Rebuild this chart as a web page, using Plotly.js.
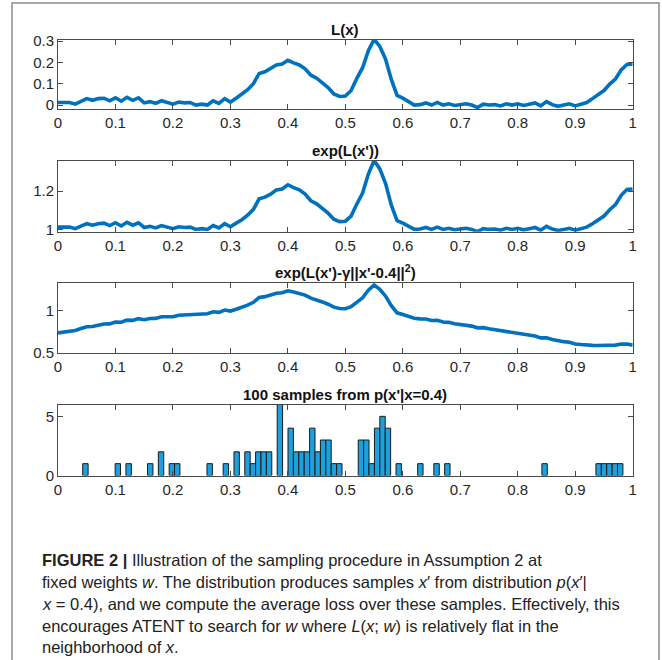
<!DOCTYPE html>
<html><head><meta charset="utf-8">
<script src="https://cdn.plot.ly/plotly-3.0.1.min.js"></script>
<style>html,body{margin:0;padding:0;background:#fff;}#chart{width:662px;height:660px;}</style>
</head><body><div id="chart"></div>
<script>
// ---- data ----
const xStart = 0, xStep = 0.01;
const lossL = [0.012,0.010,0.012,0.004,0.018,0.030,0.022,0.030,0.032,0.020,
  0.034,0.018,0.036,0.022,0.034,0.010,0.016,0.008,0.020,0.012,
  0.004,0.014,0.010,0.012,0.000,0.004,0.000,0.020,0.008,0.030,
  0.014,0.032,0.050,0.072,0.100,0.148,0.156,0.170,0.188,0.192,
  0.210,0.198,0.188,0.170,0.140,0.126,0.104,0.082,0.052,0.040,
  0.042,0.068,0.125,0.175,0.255,0.308,0.275,0.215,0.120,0.045,
  0.032,0.018,0.000,0.002,0.010,0.000,0.012,0.000,0.006,-0.002,
  0.002,0.006,0.000,-0.012,0.004,0.000,0.002,-0.004,0.006,0.000,
  0.006,-0.002,0.004,0.010,-0.004,0.016,0.002,-0.006,0.000,0.006,
  -0.004,0.004,0.012,0.030,0.048,0.068,0.098,0.122,0.165,0.190,0.192];
const expL = [1.012,1.010,1.012,1.004,1.018,1.030,1.022,1.030,1.033,1.020,
  1.035,1.018,1.037,1.022,1.035,1.010,1.016,1.008,1.020,1.012,
  1.004,1.014,1.010,1.012,1.000,1.004,1.000,1.020,1.008,1.030,
  1.014,1.033,1.051,1.075,1.105,1.160,1.169,1.185,1.207,1.212,
  1.234,1.219,1.207,1.185,1.150,1.134,1.110,1.085,1.053,1.041,
  1.043,1.070,1.133,1.191,1.290,1.361,1.317,1.240,1.127,1.046,
  1.033,1.018,1.000,1.002,1.010,1.000,1.012,1.000,1.006,0.998,
  1.002,1.006,1.000,0.988,1.004,1.000,1.002,0.996,1.006,1.000,
  1.006,0.998,1.004,1.010,0.996,1.016,1.002,0.994,1.000,1.006,
  0.996,1.004,1.012,1.030,1.049,1.070,1.103,1.130,1.179,1.209,1.212];
const expLReg = [0.735,0.745,0.758,0.763,0.786,0.807,0.811,0.829,0.841,0.842,
  0.864,0.861,0.886,0.883,0.904,0.891,0.906,0.907,0.926,0.927,
  0.927,0.944,0.947,0.955,0.950,0.960,0.962,0.986,0.979,1.006,
  0.994,1.016,1.038,1.064,1.097,1.154,1.165,1.183,1.206,1.211,
  1.234,1.219,1.206,1.183,1.147,1.129,1.102,1.075,1.040,1.024,
  1.022,1.045,1.101,1.151,1.241,1.301,1.251,1.170,1.057,0.973,
  0.953,0.932,0.908,0.901,0.900,0.882,0.884,0.864,0.860,0.844,
  0.837,0.830,0.815,0.795,0.797,0.783,0.773,0.757,0.754,0.738,
  0.730,0.713,0.705,0.698,0.676,0.678,0.656,0.639,0.631,0.623,
  0.604,0.597,0.589,0.587,0.586,0.585,0.589,0.590,0.602,0.603,0.590];
const sampleBinCenters = [0.0477,0.1041,0.1229,0.1605,0.1793,0.1981,0.2075,0.2639,0.2921,0.3109,
  0.3297,0.3391,0.3485,0.3579,0.3673,0.3861,0.4049,0.4143,0.4237,0.4331,
  0.4425,0.4519,0.4613,0.4707,0.4801,0.4895,0.5271,0.5365,0.5459,0.5553,
  0.5647,0.5741,0.5929,0.6305,0.6587,0.6775,0.8467,0.9407,0.9501,0.9595,
  0.9689,0.9783];
const sampleCounts = [1,1,1,1,2,1,1,1,1,2,
  2,1,2,2,2,6,4,2,2,2,
  4,2,3,3,1,1,3,3,1,4,
  5,4,1,1,1,1,1,1,1,1,
  1,1];
const subplotTitles = ["L(x)","exp(L(x'))","exp(L(x')-γ||x'-0.4||<sup>2</sup>)","100 samples from p(x'|x=0.4)"];
const captionLines = [
  "<b>FIGURE 2 |</b> Illustration of the sampling procedure in Assumption 2 at",
  "fixed weights <i>w</i>. The distribution produces samples <i>x</i>′ from distribution <i>p</i>(<i>x</i>′|",
  "<i>x</i> = 0.4), and we compute the average loss over these samples. Effectively, this",
  "encourages ATENT to search for <i>w</i> where <i>L</i>(<i>x</i>; <i>w</i>) is relatively flat in the",
  "neighborhood of <i>x</i>."
];

// ---- layout helpers ----
const W = 662, H = 660;
const px = v => v / W, py = v => 1 - v / H;
const plotLeft = 58, plotRight = 632.7;
const boxes = [[40,109.3],[160.7,231.7],[282.7,352.7],[404.5,475.5]];
const yRanges = [[-0.02,0.305],[0.988,1.36],[0.5,1.33],[0,6]];
const yDticks = [0.1,0.2,0.5,5];
const lineColor = 'rgb(0,114,189)';
const axisColor = '#4a4a4a';
const tickFont = {family:'Liberation Sans, Arial, sans-serif', size:15, color:'#262626'};

const traces = [
  {type:'scatter', mode:'lines', x0:xStart, dx:xStep, y:lossL, xaxis:'x', yaxis:'y', line:{color:lineColor,width:3.6}},
  {type:'scatter', mode:'lines', x0:xStart, dx:xStep, y:expL, xaxis:'x2', yaxis:'y2', line:{color:lineColor,width:3.6}},
  {type:'scatter', mode:'lines', x0:xStart, dx:xStep, y:expLReg, xaxis:'x3', yaxis:'y3', line:{color:lineColor,width:3.6}},
  {type:'bar', x:sampleBinCenters, y:sampleCounts, width:0.0094, xaxis:'x4', yaxis:'y4',
   marker:{color:'rgb(30,160,222)', line:{color:'#1a1a1a', width:1}}}
];

const layout = {
  width:W, height:H, margin:{l:0,r:0,t:0,b:0}, showlegend:false,
  paper_bgcolor:'#fff', plot_bgcolor:'#fff', bargap:0,
  annotations:[], shapes:[]
};
for (let i = 0; i < 4; i++) {
  const s = i === 0 ? '' : String(i+1);
  layout['xaxis'+s] = {
    domain:[px(plotLeft), px(plotRight)], anchor:'y'+s, range:[0,1], tick0:0, dtick:0.1,
    showline:true, linecolor:axisColor, linewidth:1, mirror:'allticks',
    ticks:'inside', ticklen:5, tickcolor:axisColor, showgrid:false, zeroline:false,
    tickfont:tickFont, fixedrange:true
  };
  layout['yaxis'+s] = {
    domain:[py(boxes[i][1]), py(boxes[i][0])], anchor:'x'+s, range:yRanges[i], tick0:0, dtick:yDticks[i],
    showline:true, linecolor:axisColor, linewidth:1, mirror:'allticks',
    ticks:'inside', ticklen:5, tickcolor:axisColor, showgrid:false, zeroline:false,
    tickfont:tickFont, fixedrange:true
  };
  layout.annotations.push({
    xref:'paper', yref:'paper', x:px((plotLeft+plotRight)/2), y:py(boxes[i][0]),
    xanchor:'center', yanchor:'bottom', yshift:0, showarrow:false,
    text:'<b>'+subplotTitles[i]+'</b>',
    font:{family:'Liberation Sans, Arial, sans-serif', size:15, color:'#111'}
  });
}
const capY = [560, 582, 604, 626, 647];
captionLines.forEach((t, k) => {
  layout.annotations.push({
    xref:'paper', yref:'paper', x:px(40), y:py(capY[k]), xanchor:'left', yanchor:'middle',
    align:'left', showarrow:false, text:t,
    font:{family:'Liberation Sans, Arial, sans-serif', size:16.5, color:'#222'}
  });
});
layout.shapes.push({type:'rect', xref:'paper', yref:'paper', x0:px(12), x1:px(659), y0:-0.1, y1:py(3),
  line:{color:'#8c8c8c', width:1.5}, fillcolor:'rgba(0,0,0,0)', layer:'below'});

Plotly.newPlot('chart', traces, layout, {staticPlot:true, displayModeBar:false});
</script>
</body></html>
